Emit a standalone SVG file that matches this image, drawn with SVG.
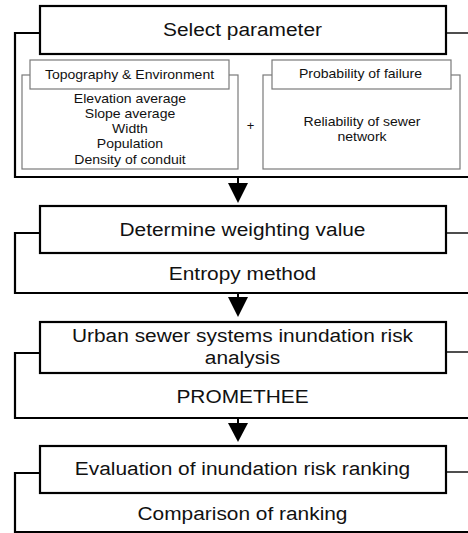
<svg xmlns="http://www.w3.org/2000/svg" width="468" height="533" viewBox="0 0 468 533">
<style>
.main{font-family:"Liberation Sans",Arial,sans-serif;font-size:18px;fill:#111;text-anchor:middle}
.small{font-family:"Liberation Sans",Arial,sans-serif;font-size:13px;fill:#111;text-anchor:middle}
.box{fill:#fff;stroke:#000;stroke-width:2.2}
.sub{fill:#fff;stroke:#7a7a7a;stroke-width:1.2}
.bracket{fill:none;stroke:#000;stroke-width:2.2}
.link{fill:none;stroke:#222;stroke-width:1.6}
.stem{stroke:#000;stroke-width:2}
.head{fill:#000}
</style>
<rect width="468" height="533" fill="#fff"/>
<g id="connectors">
  <path class="bracket" d="M40,33 H15 V177 H468"/>
  <path class="link" d="M446,33 H468"/>
  <path class="bracket" d="M40,233 H15 V293 H468"/>
  <path class="link" d="M446,233 H468"/>
  <path class="bracket" d="M40,353 H15 V418 H468"/>
  <path class="link" d="M446,352 H468"/>
  <path class="bracket" d="M40,473 H15 V532 H468"/>
  <path class="link" d="M446,472 H468"/>
  <line class="stem" x1="238" y1="177" x2="238" y2="185"/>
  <polygon class="head" points="228,183 248,183 238,203"/>
  <line class="stem" x1="238" y1="293" x2="238" y2="299"/>
  <polygon class="head" points="228,297 248,297 238,317"/>
  <line class="stem" x1="238" y1="418" x2="238" y2="425"/>
  <polygon class="head" points="228,423 248,423 238,442"/>
</g>
<g id="select-parameter">
  <rect class="box" x="40" y="6" width="406" height="48"/>
  <text class="main" transform="translate(242.5,36) scale(1.16,1)">Select parameter</text>
</g>
<g id="topography">
  <rect class="sub" x="22" y="75" width="216" height="94"/>
  <rect class="sub" x="30" y="60" width="199" height="29"/>
  <text class="small" transform="translate(129.5,78.5) scale(1.08,1)">Topography &amp; Environment</text>
  <text class="small" transform="translate(130,103) scale(1.08,1)">Elevation average</text>
  <text class="small" transform="translate(130,118.3) scale(1.08,1)">Slope average</text>
  <text class="small" transform="translate(130,133) scale(1.08,1)">Width</text>
  <text class="small" transform="translate(130,148.3) scale(1.08,1)">Population</text>
  <text class="small" transform="translate(130,163.5) scale(1.08,1)">Density of conduit</text>
</g>
<g id="plus">
  <text class="small" x="250.5" y="130">+</text>
</g>
<g id="probability">
  <rect class="sub" x="263" y="75" width="197" height="94"/>
  <rect class="sub" x="272" y="60" width="179" height="29"/>
  <text class="small" transform="translate(360.5,78) scale(1.08,1)">Probability of failure</text>
  <text class="small" transform="translate(362,126) scale(1.08,1)">Reliability of sewer</text>
  <text class="small" transform="translate(362,141) scale(1.08,1)">network</text>
</g>
<g id="weighting">
  <rect class="box" x="40" y="206" width="406" height="47"/>
  <text class="main" transform="translate(242.5,236) scale(1.16,1)">Determine weighting value</text>
  <text class="main" transform="translate(242.5,280) scale(1.16,1)">Entropy method</text>
</g>
<g id="risk-analysis">
  <rect class="box" x="40" y="322" width="406" height="51"/>
  <text class="main" transform="translate(242.5,341.5) scale(1.16,1)">Urban sewer systems inundation risk</text>
  <text class="main" transform="translate(242.5,364) scale(1.16,1)">analysis</text>
  <text class="main" transform="translate(242.5,403) scale(1.16,1)">PROMETHEE</text>
</g>
<g id="ranking">
  <rect class="box" x="40" y="446" width="406" height="47"/>
  <text class="main" transform="translate(242.5,475) scale(1.16,1)">Evaluation of inundation risk ranking</text>
  <text class="main" transform="translate(242.5,520) scale(1.16,1)">Comparison of ranking</text>
</g>
</svg>
